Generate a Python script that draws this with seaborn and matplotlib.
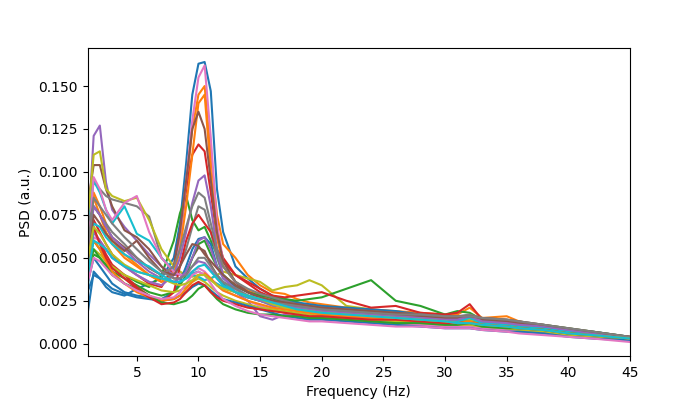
import numpy as np
import pandas as pd
import matplotlib
matplotlib.use("Agg")
import matplotlib.pyplot as plt
from matplotlib.ticker import MultipleLocator, FormatStrFormatter
import seaborn as sns

# frequency bins (Hz)
freqs = [1, 1.5, 2, 2.5, 3, 4, 5, 6, 7, 8, 8.5, 9, 9.5, 10, 10.5, 11, 11.5,
         12, 13, 14, 15, 16, 17, 18, 19, 20, 22, 24, 26, 28, 30, 31, 32, 33,
         35, 36, 38, 40, 42, 45]

# PSD per channel
ch01 = [0.017, 0.042, 0.038, 0.033, 0.030, 0.028, 0.032, 0.035, 0.038, 0.050,
        0.070, 0.105, 0.145, 0.163, 0.164, 0.147, 0.090,
        0.065, 0.045, 0.038, 0.032, 0.028, 0.026, 0.024, 0.022, 0.021,
        0.020, 0.019, 0.018, 0.016, 0.015, 0.014, 0.014, 0.013, 0.012, 0.011, 0.009, 0.008, 0.007, 0.004]
ch02 = [0.060, 0.085, 0.075, 0.065, 0.058, 0.050, 0.045, 0.040, 0.036, 0.042,
        0.060, 0.090, 0.125, 0.145, 0.150, 0.110, 0.075,
        0.058, 0.050, 0.040, 0.034, 0.030, 0.029, 0.026, 0.024, 0.023,
        0.021, 0.020, 0.019, 0.018, 0.017, 0.017, 0.021, 0.015, 0.016, 0.013, 0.010, 0.007, 0.005, 0.003]
ch03 = [0.045, 0.060, 0.055, 0.048, 0.044, 0.040, 0.036, 0.033, 0.040, 0.060,
        0.076, 0.086, 0.072, 0.066, 0.068, 0.060, 0.052,
        0.045, 0.036, 0.031, 0.028, 0.026, 0.024, 0.022, 0.021, 0.020,
        0.019, 0.018, 0.017, 0.016, 0.014, 0.013, 0.013, 0.012, 0.011, 0.010, 0.008, 0.007, 0.006, 0.003]
ch04 = [0.050, 0.072, 0.065, 0.058, 0.052, 0.045, 0.040, 0.035, 0.033, 0.045,
        0.065, 0.090, 0.110, 0.116, 0.112, 0.088, 0.062,
        0.050, 0.040, 0.035, 0.030, 0.027, 0.025, 0.023, 0.021, 0.020,
        0.019, 0.018, 0.017, 0.016, 0.015, 0.014, 0.014, 0.013, 0.012, 0.011, 0.009, 0.007, 0.006, 0.003]
ch05 = [0.060, 0.121, 0.127, 0.094, 0.078, 0.068, 0.060, 0.052, 0.045, 0.040,
        0.040, 0.042, 0.045, 0.048, 0.047, 0.043, 0.038,
        0.034, 0.030, 0.027, 0.025, 0.022, 0.021, 0.020, 0.019, 0.018,
        0.017, 0.016, 0.015, 0.014, 0.013, 0.012, 0.012, 0.011, 0.010, 0.009, 0.008, 0.006, 0.005, 0.003]
ch06 = [0.080, 0.104, 0.104, 0.090, 0.080, 0.066, 0.062, 0.055, 0.045, 0.038,
        0.038, 0.042, 0.050, 0.056, 0.054, 0.046, 0.040,
        0.035, 0.030, 0.027, 0.025, 0.023, 0.021, 0.020, 0.019, 0.018,
        0.017, 0.016, 0.015, 0.015, 0.014, 0.013, 0.013, 0.012, 0.011, 0.010, 0.008, 0.007, 0.005, 0.003]
ch07 = [0.040, 0.062, 0.060, 0.055, 0.050, 0.045, 0.040, 0.036, 0.034, 0.040,
        0.060, 0.095, 0.130, 0.155, 0.162, 0.120, 0.070,
        0.048, 0.035, 0.030, 0.026, 0.023, 0.021, 0.019, 0.018, 0.017,
        0.016, 0.015, 0.014, 0.013, 0.012, 0.011, 0.011, 0.010, 0.009, 0.008, 0.007, 0.005, 0.004, 0.002]
ch08 = [0.085, 0.094, 0.090, 0.086, 0.084, 0.082, 0.080, 0.074, 0.050, 0.042,
        0.045, 0.055, 0.068, 0.080, 0.078, 0.065, 0.050,
        0.040, 0.033, 0.030, 0.027, 0.025, 0.023, 0.022, 0.021, 0.020,
        0.019, 0.018, 0.017, 0.016, 0.015, 0.015, 0.014, 0.013, 0.012, 0.011, 0.009, 0.008, 0.006, 0.003]
ch09 = [0.070, 0.110, 0.112, 0.090, 0.086, 0.083, 0.085, 0.072, 0.055, 0.045,
        0.042, 0.040, 0.039, 0.040, 0.040, 0.038, 0.040,
        0.042, 0.040, 0.038, 0.036, 0.031, 0.033, 0.034, 0.037, 0.034,
        0.022, 0.020, 0.018, 0.017, 0.015, 0.014, 0.014, 0.013, 0.012, 0.011, 0.009, 0.007, 0.006, 0.003]
ch10 = [0.060, 0.095, 0.088, 0.078, 0.070, 0.080, 0.064, 0.060, 0.050, 0.043,
        0.040, 0.040, 0.041, 0.042, 0.040, 0.037, 0.035,
        0.033, 0.030, 0.028, 0.026, 0.024, 0.022, 0.021, 0.020, 0.019,
        0.018, 0.016, 0.015, 0.014, 0.013, 0.012, 0.012, 0.011, 0.010, 0.009, 0.008, 0.006, 0.005, 0.003]
ch11 = [0.035, 0.050, 0.045, 0.040, 0.035, 0.030, 0.028, 0.027, 0.026, 0.030,
        0.036, 0.045, 0.055, 0.061, 0.062, 0.058, 0.045,
        0.040, 0.032, 0.028, 0.026, 0.027, 0.025, 0.024, 0.023, 0.022,
        0.021, 0.020, 0.019, 0.017, 0.016, 0.015, 0.015, 0.014, 0.013, 0.012, 0.010, 0.008, 0.006, 0.003]
ch12 = [0.050, 0.088, 0.080, 0.070, 0.060, 0.052, 0.046, 0.040, 0.036, 0.040,
        0.055, 0.080, 0.110, 0.140, 0.145, 0.100, 0.062,
        0.045, 0.036, 0.031, 0.028, 0.025, 0.023, 0.021, 0.020, 0.019,
        0.018, 0.017, 0.016, 0.015, 0.014, 0.014, 0.016, 0.014, 0.013, 0.012, 0.010, 0.008, 0.006, 0.003]
ch13 = [0.040, 0.052, 0.050, 0.046, 0.042, 0.038, 0.034, 0.030, 0.028, 0.030,
        0.034, 0.040, 0.050, 0.058, 0.060, 0.052, 0.045,
        0.040, 0.034, 0.030, 0.028, 0.027, 0.026, 0.025, 0.026, 0.027,
        0.032, 0.037, 0.025, 0.022, 0.017, 0.019, 0.018, 0.014, 0.013, 0.012, 0.011, 0.009, 0.007, 0.004]
ch14 = [0.048, 0.065, 0.060, 0.052, 0.046, 0.040, 0.033, 0.028, 0.024, 0.030,
        0.045, 0.060, 0.070, 0.075, 0.070, 0.065, 0.055,
        0.048, 0.040, 0.036, 0.032, 0.028, 0.027, 0.028, 0.029, 0.030,
        0.025, 0.021, 0.022, 0.018, 0.017, 0.018, 0.023, 0.014, 0.013, 0.012, 0.010, 0.008, 0.006, 0.004]
ch15 = [0.045, 0.065, 0.060, 0.055, 0.050, 0.045, 0.040, 0.036, 0.034, 0.040,
        0.050, 0.065, 0.082, 0.095, 0.098, 0.080, 0.055,
        0.040, 0.030, 0.025, 0.016, 0.014, 0.017, 0.016, 0.015, 0.015,
        0.014, 0.013, 0.012, 0.011, 0.010, 0.010, 0.012, 0.010, 0.009, 0.008, 0.007, 0.005, 0.004, 0.002]
ch16 = [0.055, 0.080, 0.075, 0.068, 0.062, 0.056, 0.050, 0.044, 0.040, 0.045,
        0.065, 0.095, 0.125, 0.135, 0.125, 0.095, 0.065,
        0.048, 0.036, 0.030, 0.027, 0.025, 0.023, 0.021, 0.020, 0.019,
        0.018, 0.017, 0.017, 0.016, 0.015, 0.015, 0.015, 0.014, 0.013, 0.012, 0.010, 0.008, 0.006, 0.003]
ch17 = [0.050, 0.097, 0.090, 0.078, 0.072, 0.082, 0.086, 0.065, 0.050, 0.042,
        0.040, 0.040, 0.042, 0.044, 0.042, 0.038, 0.034,
        0.031, 0.028, 0.025, 0.022, 0.020, 0.018, 0.017, 0.016, 0.015,
        0.014, 0.013, 0.012, 0.011, 0.010, 0.010, 0.010, 0.009, 0.008, 0.007, 0.006, 0.005, 0.004, 0.002]
ch18 = [0.070, 0.080, 0.075, 0.070, 0.065, 0.058, 0.050, 0.044, 0.040, 0.045,
        0.055, 0.068, 0.080, 0.088, 0.085, 0.070, 0.055,
        0.045, 0.036, 0.032, 0.029, 0.027, 0.025, 0.023, 0.022, 0.021,
        0.020, 0.019, 0.018, 0.017, 0.016, 0.016, 0.017, 0.015, 0.014, 0.013, 0.011, 0.008, 0.006, 0.003]
ch19 = [0.040, 0.055, 0.052, 0.048, 0.045, 0.040, 0.037, 0.034, 0.031, 0.030,
        0.031, 0.033, 0.036, 0.038, 0.036, 0.033, 0.030,
        0.028, 0.025, 0.023, 0.021, 0.020, 0.019, 0.018, 0.017, 0.016,
        0.015, 0.014, 0.013, 0.012, 0.011, 0.011, 0.011, 0.010, 0.009, 0.008, 0.007, 0.005, 0.004, 0.002]
ch20 = [0.030, 0.070, 0.068, 0.062, 0.058, 0.052, 0.048, 0.045, 0.040, 0.036,
        0.036, 0.038, 0.040, 0.039, 0.037, 0.038, 0.040,
        0.036, 0.030, 0.027, 0.025, 0.023, 0.021, 0.020, 0.019, 0.018,
        0.017, 0.016, 0.015, 0.014, 0.013, 0.013, 0.015, 0.012, 0.011, 0.010, 0.009, 0.007, 0.005, 0.003]
ch21 = [0.030, 0.040, 0.038, 0.035, 0.032, 0.029, 0.027, 0.026, 0.025, 0.026,
        0.028, 0.030, 0.033, 0.035, 0.034, 0.031, 0.028,
        0.026, 0.024, 0.022, 0.020, 0.018, 0.016, 0.015, 0.014, 0.014,
        0.013, 0.012, 0.011, 0.010, 0.009, 0.009, 0.009, 0.008, 0.007, 0.007, 0.006, 0.004, 0.003, 0.002]
ch22 = [0.045, 0.060, 0.055, 0.048, 0.042, 0.035, 0.030, 0.027, 0.025, 0.026,
        0.028, 0.032, 0.036, 0.040, 0.041, 0.038, 0.034,
        0.031, 0.028, 0.025, 0.023, 0.021, 0.020, 0.019, 0.018, 0.017,
        0.016, 0.015, 0.014, 0.013, 0.012, 0.012, 0.013, 0.011, 0.010, 0.009, 0.008, 0.006, 0.005, 0.003]
ch23 = [0.042, 0.055, 0.050, 0.045, 0.040, 0.035, 0.032, 0.028, 0.024, 0.023,
        0.024, 0.025, 0.028, 0.032, 0.034, 0.030, 0.026,
        0.023, 0.020, 0.018, 0.017, 0.017, 0.016, 0.016, 0.015, 0.015,
        0.014, 0.013, 0.012, 0.012, 0.011, 0.011, 0.012, 0.010, 0.009, 0.009, 0.008, 0.006, 0.005, 0.003]
ch24 = [0.055, 0.068, 0.058, 0.050, 0.044, 0.038, 0.032, 0.027, 0.023, 0.024,
        0.026, 0.030, 0.034, 0.036, 0.034, 0.030, 0.027,
        0.025, 0.023, 0.021, 0.020, 0.019, 0.018, 0.017, 0.016, 0.016,
        0.015, 0.014, 0.014, 0.013, 0.012, 0.012, 0.012, 0.011, 0.010, 0.009, 0.008, 0.006, 0.005, 0.003]
ch25 = [0.050, 0.080, 0.075, 0.068, 0.062, 0.055, 0.048, 0.042, 0.038, 0.036,
        0.038, 0.042, 0.050, 0.060, 0.062, 0.055, 0.045,
        0.038, 0.032, 0.028, 0.025, 0.023, 0.022, 0.021, 0.020, 0.019,
        0.018, 0.017, 0.016, 0.015, 0.014, 0.014, 0.016, 0.013, 0.012, 0.011, 0.010, 0.008, 0.006, 0.003]
ch26 = [0.045, 0.075, 0.070, 0.064, 0.060, 0.054, 0.060, 0.050, 0.042, 0.040,
        0.045, 0.052, 0.058, 0.057, 0.052, 0.048, 0.044,
        0.040, 0.034, 0.030, 0.027, 0.025, 0.024, 0.023, 0.022, 0.021,
        0.020, 0.019, 0.018, 0.017, 0.016, 0.016, 0.016, 0.015, 0.014, 0.013, 0.011, 0.009, 0.007, 0.004]
ch27 = [0.035, 0.050, 0.048, 0.044, 0.040, 0.035, 0.031, 0.028, 0.026, 0.027,
        0.030, 0.035, 0.040, 0.042, 0.040, 0.035, 0.030,
        0.026, 0.022, 0.019, 0.017, 0.016, 0.015, 0.014, 0.013, 0.013,
        0.012, 0.011, 0.010, 0.010, 0.009, 0.009, 0.009, 0.008, 0.007, 0.006, 0.005, 0.004, 0.003, 0.001]
ch28 = [0.055, 0.085, 0.080, 0.075, 0.070, 0.062, 0.055, 0.048, 0.042, 0.038,
        0.038, 0.040, 0.045, 0.050, 0.050, 0.045, 0.040,
        0.036, 0.032, 0.028, 0.026, 0.024, 0.023, 0.022, 0.021, 0.020,
        0.019, 0.018, 0.017, 0.017, 0.016, 0.016, 0.016, 0.015, 0.014, 0.013, 0.011, 0.009, 0.007, 0.004]
ch29 = [0.048, 0.068, 0.064, 0.058, 0.052, 0.046, 0.042, 0.040, 0.038, 0.035,
        0.034, 0.035, 0.037, 0.040, 0.040, 0.037, 0.034,
        0.032, 0.030, 0.028, 0.026, 0.023, 0.021, 0.020, 0.019, 0.018,
        0.017, 0.016, 0.015, 0.014, 0.013, 0.012, 0.012, 0.011, 0.010, 0.009, 0.008, 0.006, 0.005, 0.003]
ch30 = [0.040, 0.060, 0.058, 0.055, 0.050, 0.045, 0.042, 0.040, 0.038, 0.036,
        0.036, 0.038, 0.042, 0.045, 0.046, 0.042, 0.038,
        0.034, 0.030, 0.028, 0.026, 0.024, 0.022, 0.020, 0.019, 0.018,
        0.017, 0.016, 0.015, 0.014, 0.013, 0.012, 0.012, 0.011, 0.010, 0.009, 0.008, 0.006, 0.005, 0.003]

channels = [ch01, ch02, ch03, ch04, ch05, ch06, ch07, ch08, ch09, ch10,
            ch11, ch12, ch13, ch14, ch15, ch16, ch17, ch18, ch19, ch20,
            ch21, ch22, ch23, ch24, ch25, ch26, ch27, ch28, ch29, ch30]

# long format table for seaborn
rows = []
for i, psd in enumerate(channels):
    for f, p in zip(freqs, psd):
        rows.append((i, f, p))
df = pd.DataFrame(rows, columns=['channel', 'freq', 'psd'])

fig, ax = plt.subplots(figsize=(7, 4), dpi=100)
sns.lineplot(data=df, x='freq', y='psd', hue='channel',
             palette=sns.color_palette('tab10', len(channels)),
             legend=False, linewidth=1.5, errorbar=None, ax=ax)
ax.set_xlim(1, 45)
ax.yaxis.set_major_locator(MultipleLocator(0.025))
ax.yaxis.set_major_formatter(FormatStrFormatter('%.3f'))
ax.set_xlabel('Frequency (Hz)')
ax.set_ylabel('PSD (a.u.)')

plt.savefig('out.png', dpi=100)
